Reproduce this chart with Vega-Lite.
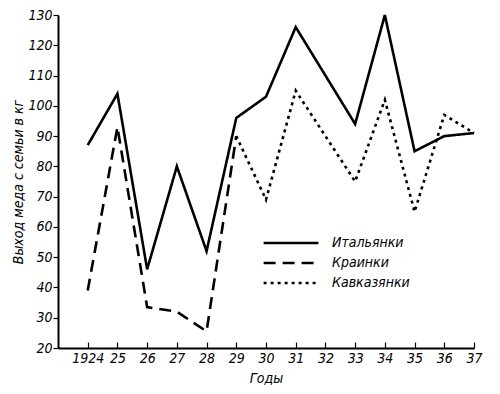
{
  "$schema": "https://vega.github.io/schema/vega-lite/v6.json",
  "width": 416,
  "height": 333,
  "autosize": {"type": "none"},
  "padding": {"left": 58, "top": 15, "right": 26, "bottom": 46},
  "background": "white",
  "config": {
    "view": {"stroke": null},
    "font": "DejaVu Sans Condensed",
    "axis": {"labelFont": "DejaVu Sans Condensed", "titleFont": "DejaVu Sans Condensed", "labelFontStyle": "italic", "titleFontStyle": "italic", "labelColor": "black", "titleColor": "black", "domainColor": "black", "tickColor": "black", "grid": false, "titleFontWeight": "normal"},
    "legend": {"labelFont": "DejaVu Sans Condensed"}
  },
  "data": {
    "values": [
      {"year": 1924, "value": 87, "breed": "Итальянки"},
      {"year": 1925, "value": 104, "breed": "Итальянки"},
      {"year": 1926, "value": 46, "breed": "Итальянки"},
      {"year": 1927, "value": 80, "breed": "Итальянки"},
      {"year": 1928, "value": 52, "breed": "Итальянки"},
      {"year": 1929, "value": 96, "breed": "Итальянки"},
      {"year": 1930, "value": 103, "breed": "Итальянки"},
      {"year": 1931, "value": 126, "breed": "Итальянки"},
      {"year": 1932, "value": 110, "breed": "Итальянки"},
      {"year": 1933, "value": 94, "breed": "Итальянки"},
      {"year": 1934, "value": 130, "breed": "Итальянки"},
      {"year": 1935, "value": 85, "breed": "Итальянки"},
      {"year": 1936, "value": 90, "breed": "Итальянки"},
      {"year": 1937, "value": 91, "breed": "Итальянки"},
      {"year": 1924, "value": 39, "breed": "Краинки"},
      {"year": 1925, "value": 93, "breed": "Краинки"},
      {"year": 1926, "value": 33.5, "breed": "Краинки"},
      {"year": 1927, "value": 32, "breed": "Краинки"},
      {"year": 1928, "value": 25.5, "breed": "Краинки"},
      {"year": 1929, "value": 90, "breed": "Краинки"},
      {"year": 1929, "value": 90, "breed": "Кавказянки"},
      {"year": 1930, "value": 69, "breed": "Кавказянки"},
      {"year": 1931, "value": 105, "breed": "Кавказянки"},
      {"year": 1932, "value": 90, "breed": "Кавказянки"},
      {"year": 1933, "value": 75, "breed": "Кавказянки"},
      {"year": 1934, "value": 102, "breed": "Кавказянки"},
      {"year": 1935, "value": 65, "breed": "Кавказянки"},
      {"year": 1936, "value": 97, "breed": "Кавказянки"},
      {"year": 1937, "value": 91, "breed": "Кавказянки"}
    ]
  },
  "mark": {"type": "line", "color": "black", "strokeWidth": 2.6, "strokeCap": "butt"},
  "encoding": {
    "x": {
      "field": "year", "type": "quantitative",
      "scale": {"domain": [1923, 1937], "nice": false, "zero": false},
      "axis": {
        "values": [1924, 1925, 1926, 1927, 1928, 1929, 1930, 1931, 1932, 1933, 1934, 1935, 1936, 1937],
        "labelExpr": "datum.value == 1924 ? '1924' : slice(toString(datum.value), 2)",
        "title": "Годы", "titleFontSize": 14, "titlePadding": 6,
        "labelFontSize": 14, "tickSize": -6, "labelPadding": 9, "domainWidth": 2, "tickWidth": 1.2, "labelFlush": false
      }
    },
    "y": {
      "field": "value", "type": "quantitative",
      "scale": {"domain": [20, 130], "nice": false, "zero": false},
      "axis": {
        "values": [20, 30, 40, 50, 60, 70, 80, 90, 100, 110, 120, 130],
        "title": "Выход меда с семьи в кг", "titleFontSize": 14, "titlePadding": 2,
        "labelFontSize": 14, "tickSize": 5, "labelPadding": 1, "domainWidth": 2, "tickWidth": 1.2, "labelFlush": false
      }
    },
    "strokeDash": {
      "field": "breed", "type": "nominal",
      "scale": {"domain": ["Итальянки", "Краинки", "Кавказянки"], "range": [[1, 0], [12, 7], [3, 4]]},
      "legend": {
        "title": null, "orient": "none", "legendX": 204, "legendY": 220,
        "symbolType": "stroke", "symbolSize": 3000, "symbolStrokeWidth": 2.4, "symbolStrokeColor": "black",
        "clipHeight": 16, "labelFontSize": 14, "labelFontStyle": "italic", "labelColor": "black", "rowPadding": 4, "labelOffset": 12
      }
    }
  }
}
